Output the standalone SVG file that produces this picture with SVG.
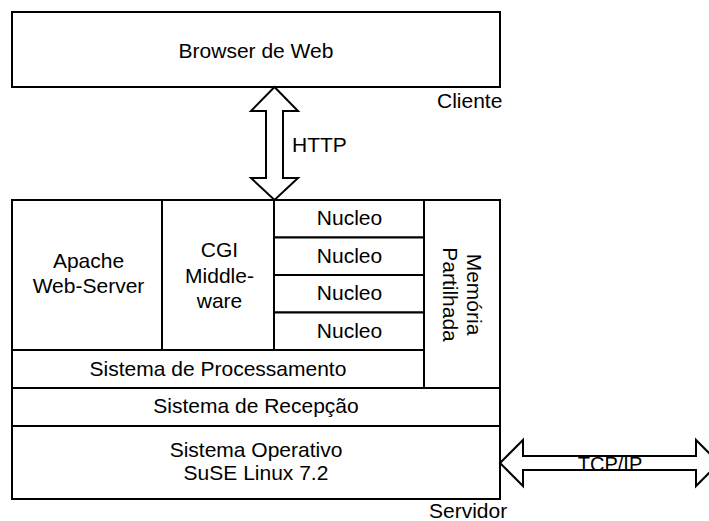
<svg xmlns="http://www.w3.org/2000/svg" width="709" height="521" viewBox="0 0 709 521">
<style>
.b{fill:#fff;stroke:#000;stroke-width:2}
.t{font-family:"Liberation Sans",Arial,sans-serif;font-size:21px;fill:#000}
.c{text-anchor:middle}
</style>
<rect x="0" y="0" width="709" height="521" fill="#fff"/>
<g id="browser">
<rect class="b" x="12" y="12" width="488" height="75"/>
<text class="t c" x="256" y="58">Browser de Web</text>
</g>
<text class="t" x="437" y="108">Cliente</text>
<g id="apache">
<rect class="b" x="12" y="200" width="150" height="150"/>
<text class="t c" x="88.5" y="267.5">Apache</text>
<text class="t c" x="88.5" y="292.5">Web-Server</text>
</g>
<g id="cgi">
<rect class="b" x="162" y="200" width="112" height="150"/>
<text class="t c" x="219.5" y="257">CGI</text>
<text class="t c" x="219.5" y="282.5">Middle-</text>
<text class="t c" x="219.5" y="308">ware</text>
</g>
<g id="nucleo1">
<rect class="b" x="274" y="200" width="150" height="37.5"/>
<text class="t c" x="349.5" y="225">Nucleo</text>
</g>
<g id="nucleo2">
<rect class="b" x="274" y="237.5" width="150" height="37.5"/>
<text class="t c" x="349.5" y="262.5">Nucleo</text>
</g>
<g id="nucleo3">
<rect class="b" x="274" y="275" width="150" height="37.5"/>
<text class="t c" x="349.5" y="300">Nucleo</text>
</g>
<g id="nucleo4">
<rect class="b" x="274" y="312.5" width="150" height="37.5"/>
<text class="t c" x="349.5" y="337.5">Nucleo</text>
</g>
<g id="memoria">
<rect class="b" x="424" y="200" width="76" height="188"/>
<g transform="translate(462,294.5) rotate(90)">
<text class="t c" x="0" y="-5">Memória</text>
<text class="t c" x="0" y="19">Partilhada</text>
</g>
</g>
<g id="processamento">
<rect class="b" x="12" y="350" width="412" height="38"/>
<text class="t c" x="218" y="376">Sistema de Processamento</text>
</g>
<g id="recepcao">
<rect class="b" x="12" y="388" width="488" height="38"/>
<text class="t c" x="256" y="413">Sistema de Recepção</text>
</g>
<g id="so">
<rect class="b" x="12" y="426" width="488" height="73"/>
<text class="t c" x="256" y="457">Sistema Operativo</text>
<text class="t c" x="256" y="479.5">SuSE Linux 7.2</text>
</g>
<text class="t" x="429" y="518">Servidor</text>
<g id="connectors">
<polygon class="b" points="274.5,87 298,111 283,111 283,178 298,178 274.5,200 251,178 266,178 266,111 251,111"/>
<text class="t" x="292" y="152">HTTP</text>
<polygon class="b" points="500,463 523,440 523,456 696,456 696,440 719,463 696,486 696,470 523,470 523,486"/>
<text class="t c" x="610" y="470.5" style="font-size:20px">TCP/IP</text>
</g>
</svg>
